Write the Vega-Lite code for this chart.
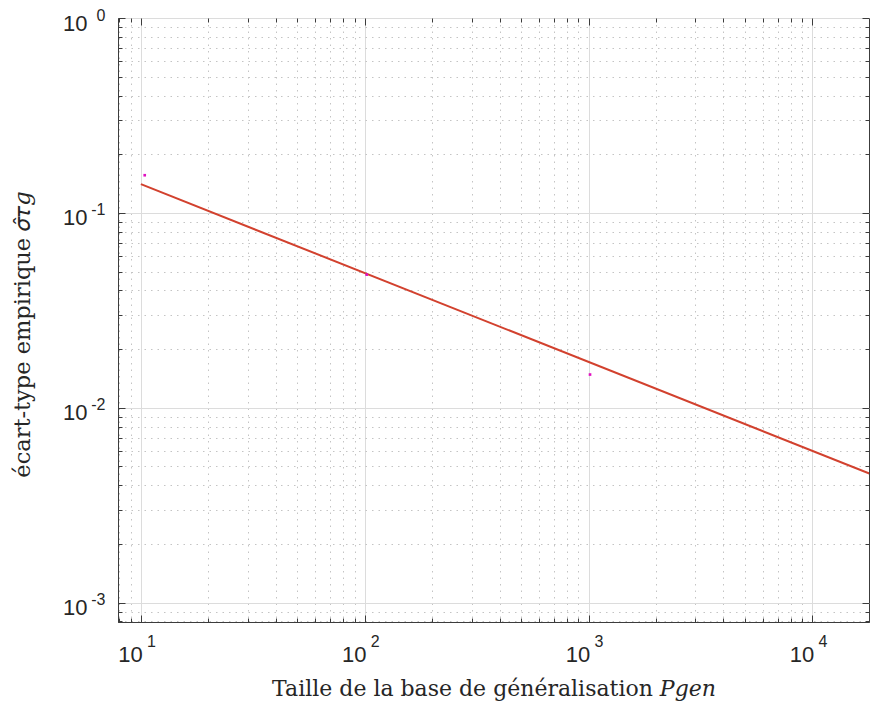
{
  "$schema": "https://vega.github.io/schema/vega-lite/v6.json",
  "width": 751,
  "height": 604,
  "autosize": {"type": "none"},
  "padding": {"left": 118, "top": 18, "right": 1, "bottom": 82},
  "background": "white",
  "config": {
    "view": {"stroke": "#3c3c3c", "strokeWidth": 1},
    "axis": {"domainColor": "#3c3c3c", "tickColor": "#3c3c3c", "labelColor": "#262626", "labelFont": "Liberation Sans", "labelFlush": false, "labelOverlap": false},
    "style": {"guide-label": {"font": "Liberation Sans"}}
  },
  "datasets": {
    "fit": [{"P": 10, "s": 0.1404}, {"P": 20000, "s": 0.00438}],
    "pts": [{"P": 10.4, "s": 0.156}, {"P": 102, "s": 0.0482}, {"P": 1015, "s": 0.0148}]
  },
  "layer": [
    {
      "data": {"name": "fit"},
      "mark": {"type": "line", "color": "#d2412e", "strokeWidth": 2, "clip": true},
      "encoding": {
        "x": {
          "field": "P", "type": "quantitative",
          "scale": {"type": "log", "domain": [7.9, 17900], "nice": false},
          "axis": {
            "orient": "bottom",
            "title": "Taille de la base de généralisation 𝑃𝑔𝑒𝑛",
            "titleFont": "DejaVu Serif", "titleFontSize": 22, "titleFontWeight": "normal", "titleColor": "#262626",
            "titlePadding": 13,
            "values": [8, 9, 10, 20, 30, 40, 50, 60, 70, 80, 90, 100, 200, 300, 400, 500, 600, 700, 800, 900, 1000, 2000, 3000, 4000, 5000, 6000, 7000, 8000, 9000, 10000],
            "labelExpr": "indexof([10,100,1000,10000], datum.value) >= 0 ? '10' : ''",
            "labelFont": "Liberation Sans", "labelFontSize": 22, "labelPadding": 22, "labelOffset": -11,
            "ticks": false,
            "grid": true,
            "gridColor": {"condition": {"test": "indexof([10,100,1000,10000], datum.value) >= 0", "value": "#dcdcdc"}, "value": "#c4c4c4"},
            "gridDash": {"condition": {"test": "indexof([10,100,1000,10000], datum.value) >= 0", "value": []}, "value": [1.5, 5]}
          }
        },
        "y": {
          "field": "s", "type": "quantitative",
          "scale": {"type": "log", "domain": [0.000795, 1], "nice": false},
          "axis": {
            "orient": "left",
            "title": "écart-type empirique 𝜎̂𝜏𝑔",
            "titleFont": "DejaVu Serif", "titleFontSize": 22.5, "titleFontWeight": "normal", "titleColor": "#262626",
            "titlePadding": 28, "titleY": 316,
            "values": [0.0008, 0.0009, 0.001, 0.002, 0.003, 0.004, 0.005, 0.006, 0.007, 0.008, 0.009, 0.01, 0.02, 0.03, 0.04, 0.05, 0.06, 0.07, 0.08, 0.09, 0.1, 0.2, 0.3, 0.4, 0.5, 0.6, 0.7, 0.8, 0.9, 1],
            "labelExpr": "abs(log(datum.value)/LN10 - round(log(datum.value)/LN10)) < 0.001 ? '10' : ''",
            "labelFont": "Liberation Sans", "labelFontSize": 22, "labelPadding": 31, "labelOffset": 5, "labelBaseline": "middle", "labelAlign": "right",
            "ticks": false,
            "grid": true,
            "gridColor": {"condition": {"test": "abs(log(datum.value)/LN10 - round(log(datum.value)/LN10)) < 0.001", "value": "#dcdcdc"}, "value": "#c4c4c4"},
            "gridDash": {"condition": {"test": "abs(log(datum.value)/LN10 - round(log(datum.value)/LN10)) < 0.001", "value": []}, "value": [1.5, 5]}
          }
        }
      }
    },
    {
      "data": {"name": "pts"},
      "mark": {"type": "square", "color": "#e010c0", "size": 7, "filled": true, "opacity": 1},
      "encoding": {
        "x": {
          "field": "P", "type": "quantitative",
          "axis": {
            "orient": "top", "title": null, "labels": false, "grid": false, "domain": false,
            "values": [8, 9, 10, 20, 30, 40, 50, 60, 70, 80, 90, 100, 200, 300, 400, 500, 600, 700, 800, 900, 1000, 2000, 3000, 4000, 5000, 6000, 7000, 8000, 9000, 10000],
            "tickSize": {"condition": {"test": "indexof([10,100,1000,10000], datum.value) >= 0", "value": -7}, "value": -4}
          }
        },
        "y": {
          "field": "s", "type": "quantitative",
          "axis": {
            "orient": "right", "title": null, "labels": false, "grid": false, "domain": false,
            "values": [0.0008, 0.0009, 0.001, 0.002, 0.003, 0.004, 0.005, 0.006, 0.007, 0.008, 0.009, 0.01, 0.02, 0.03, 0.04, 0.05, 0.06, 0.07, 0.08, 0.09, 0.1, 0.2, 0.3, 0.4, 0.5, 0.6, 0.7, 0.8, 0.9, 1],
            "tickSize": {"condition": {"test": "abs(log(datum.value)/LN10 - round(log(datum.value)/LN10)) < 0.001", "value": -7}, "value": -4}
          }
        }
      }
    },
    {
      "data": {"name": "pts"},
      "mark": {"type": "point", "opacity": 0},
      "encoding": {
        "x": {
          "field": "P", "type": "quantitative",
          "axis": {
            "orient": "bottom", "title": null, "grid": false, "domain": false, "ticks": false,
            "values": [10, 100, 1000, 10000],
            "labelExpr": "datum.value == 10 ? '1' : datum.value == 100 ? '2' : datum.value == 1000 ? '3' : '4'",
            "labelFont": "Liberation Sans", "labelFontSize": 16, "labelPadding": 11, "labelOffset": 10
          }
        },
        "y": {
          "field": "s", "type": "quantitative",
          "axis": {
            "orient": "left", "title": null, "grid": false, "domain": false, "ticks": false,
            "values": [0.001, 0.01, 0.1, 1],
            "labelExpr": "datum.value > 0.5 ? '0' : datum.value > 0.05 ? '-1' : datum.value > 0.005 ? '-2' : '-3'",
            "labelFont": "Liberation Sans", "labelFontSize": 16, "labelPadding": 13, "labelOffset": -3, "labelBaseline": "middle", "labelAlign": "right"
          }
        }
      }
    },
    {
      "data": {"name": "pts"},
      "mark": {"type": "point", "opacity": 0},
      "encoding": {
        "x": {
          "field": "P", "type": "quantitative",
          "axis": {
            "orient": "bottom", "title": null, "labels": false, "grid": false, "domain": false,
            "values": [8, 9, 10, 20, 30, 40, 50, 60, 70, 80, 90, 100, 200, 300, 400, 500, 600, 700, 800, 900, 1000, 2000, 3000, 4000, 5000, 6000, 7000, 8000, 9000, 10000],
            "tickSize": {"condition": {"test": "indexof([10,100,1000,10000], datum.value) >= 0", "value": -7}, "value": -4}
          }
        },
        "y": {
          "field": "s", "type": "quantitative",
          "axis": {
            "orient": "left", "title": null, "labels": false, "grid": false, "domain": false,
            "values": [0.0008, 0.0009, 0.001, 0.002, 0.003, 0.004, 0.005, 0.006, 0.007, 0.008, 0.009, 0.01, 0.02, 0.03, 0.04, 0.05, 0.06, 0.07, 0.08, 0.09, 0.1, 0.2, 0.3, 0.4, 0.5, 0.6, 0.7, 0.8, 0.9, 1],
            "tickSize": {"condition": {"test": "abs(log(datum.value)/LN10 - round(log(datum.value)/LN10)) < 0.001", "value": -7}, "value": -4}
          }
        }
      }
    }
  ],
  "resolve": {"axis": {"x": "independent", "y": "independent"}}
}
